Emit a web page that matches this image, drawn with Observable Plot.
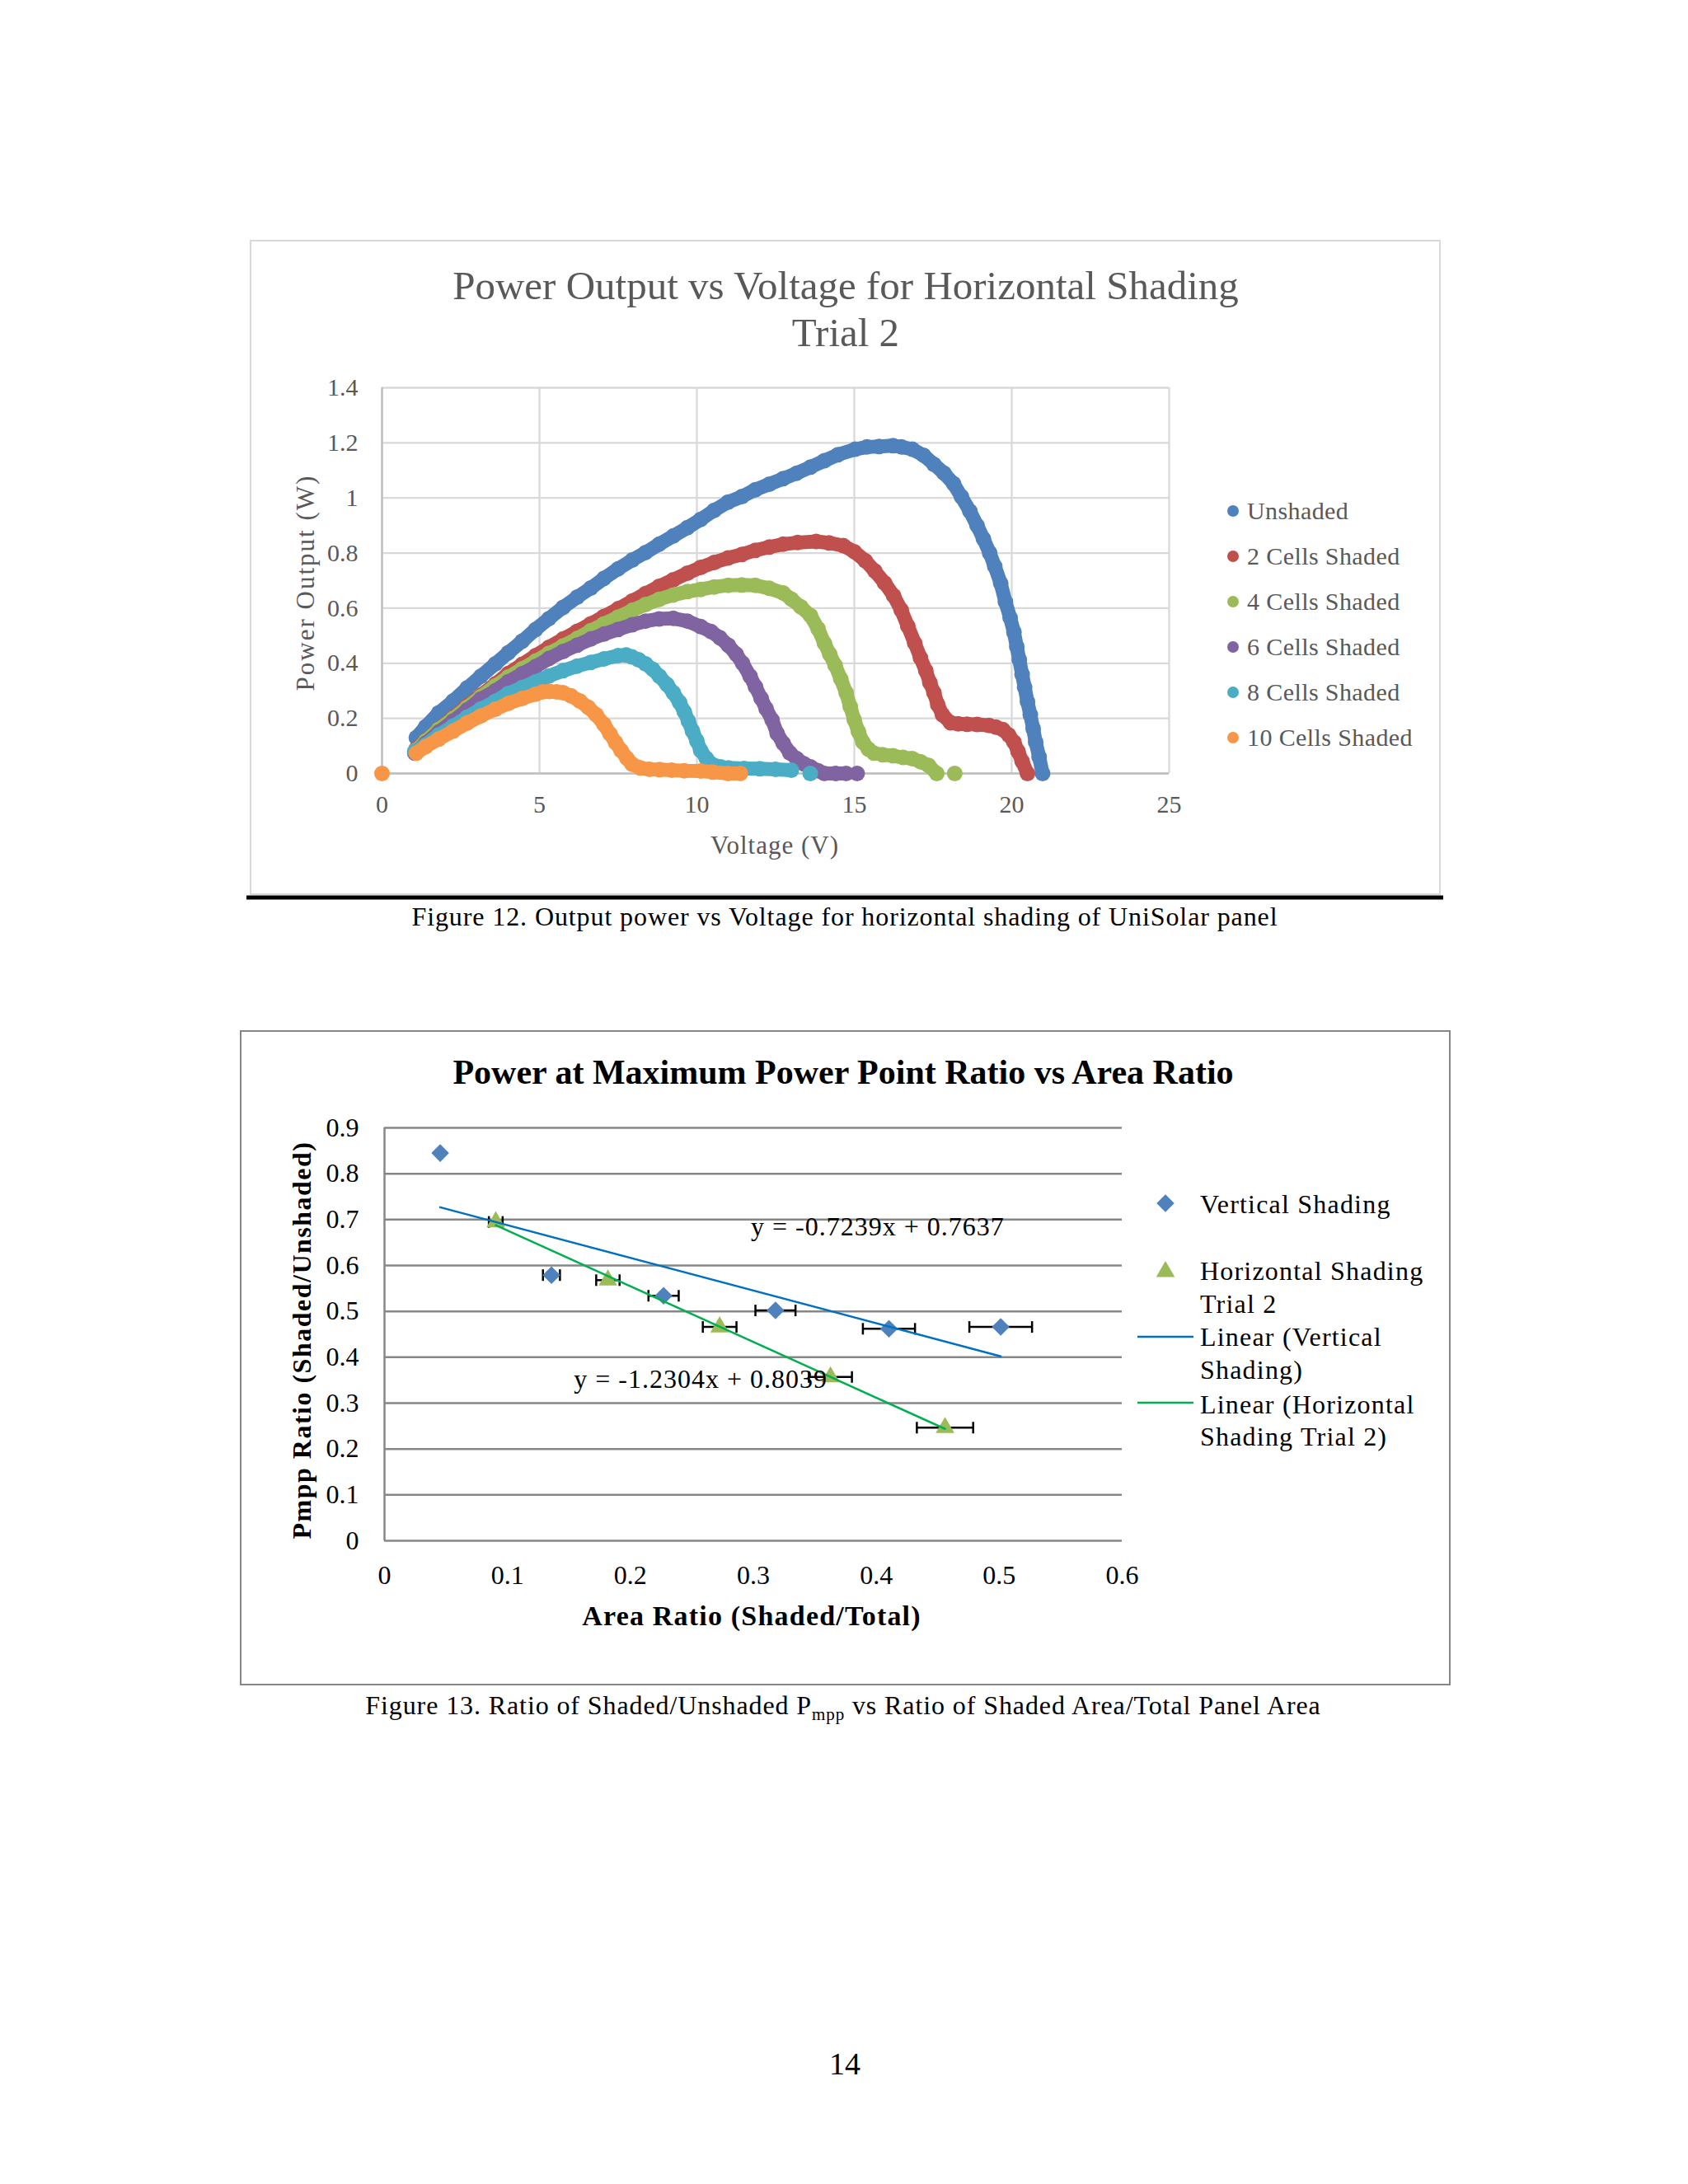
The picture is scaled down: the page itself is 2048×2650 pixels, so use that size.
<!DOCTYPE html>
<html><head><meta charset="utf-8">
<script src="https://cdn.jsdelivr.net/npm/d3@7"></script>
<script src="https://cdn.jsdelivr.net/npm/@observablehq/plot@0.6"></script>
<style>
html,body{margin:0;padding:0;background:#fff;}
#page{position:relative;width:2048px;height:2650px;background:#fff;overflow:hidden;}
#page svg{position:absolute;}
</style></head><body><div id="page"></div>
<script>
// ---------- Figure 12 data: [voltage (V), power (W)], null = gap between points ----------
const unshaded = [[1.09,0.13],[1.39,0.17],[1.8,0.22],[2.26,0.263],[2.7,0.31],[3.14,0.353],[3.6,0.398],[4.01,0.438],[4.45,0.48],[4.88,0.523],[5.3,0.562],[5.75,0.603],[6.2,0.64],[6.63,0.673],[7.05,0.708],[7.5,0.743],[7.95,0.775],[8.37,0.802],[8.8,0.832],[9.25,0.862],[9.7,0.892],[10.12,0.922],[10.55,0.955],[10.99,0.985],[11.43,1.005],[11.86,1.03],[12.3,1.05],[12.74,1.07],[13.17,1.09],[13.61,1.112],[14.05,1.135],[14.48,1.157],[15.03,1.177],[15.4,1.185],[15.79,1.187],[16.23,1.19],[16.5,1.185],[16.84,1.177],[17.2,1.155],[17.53,1.122],[17.85,1.09],[18.15,1.052],[18.4,1.005],[18.67,0.952],[18.9,0.9],[19.1,0.852],[19.3,0.8],[19.46,0.752],[19.65,0.69],[19.8,0.623],[19.95,0.565],[20.07,0.513],[20.16,0.46],[20.24,0.413],[20.33,0.36],[20.41,0.313],[20.5,0.26],[20.59,0.213],[20.68,0.163],[20.76,0.114],[20.87,0.06],[20.98,0.0]];
const shaded2 = [[1.09,0.09],[1.39,0.12],[1.8,0.162],[2.26,0.204],[2.7,0.245],[3.14,0.284],[3.6,0.325],[4.01,0.363],[4.45,0.396],[4.88,0.428],[5.3,0.458],[5.75,0.488],[6.2,0.516],[6.63,0.543],[7.05,0.57],[7.5,0.598],[7.95,0.626],[8.37,0.653],[8.8,0.679],[9.25,0.703],[9.7,0.727],[10.12,0.748],[10.55,0.766],[10.99,0.782],[11.43,0.795],[11.86,0.81],[12.3,0.822],[12.74,0.832],[13.2,0.838],[13.79,0.842],[14.2,0.837],[14.65,0.827],[15.0,0.805],[15.35,0.772],[15.65,0.735],[15.96,0.692],[16.25,0.645],[16.49,0.593],[16.7,0.535],[16.92,0.473],[17.1,0.42],[17.27,0.373],[17.4,0.33],[17.53,0.293],[17.65,0.25],[17.8,0.213],[18.06,0.184],[18.3,0.18],[18.58,0.179],[18.9,0.178],[19.28,0.174],[19.5,0.168],[19.72,0.159],[19.9,0.14],[20.07,0.114],[20.2,0.08],[20.33,0.044],[20.5,0.0]];
const shaded4 = [[1.09,0.085],[1.39,0.118],[1.8,0.16],[2.26,0.2],[2.7,0.24],[3.14,0.279],[3.6,0.318],[4.01,0.35],[4.45,0.38],[4.88,0.408],[5.3,0.436],[5.75,0.463],[6.2,0.49],[6.63,0.518],[7.05,0.543],[7.5,0.568],[7.95,0.592],[8.37,0.613],[8.8,0.632],[9.25,0.648],[9.7,0.66],[10.12,0.668],[10.55,0.677],[10.99,0.683],[11.43,0.684],[11.86,0.683],[12.3,0.672],[12.74,0.655],[13.0,0.633],[13.3,0.605],[13.61,0.573],[13.85,0.525],[14.05,0.473],[14.22,0.433],[14.39,0.393],[14.57,0.343],[14.74,0.293],[14.87,0.243],[15.0,0.194],[15.13,0.152],[15.27,0.114],[15.45,0.088],[15.62,0.074],[15.9,0.068],[16.23,0.064],[16.55,0.058],[16.84,0.054],[17.1,0.043],[17.36,0.029],[17.62,0.0],null,[18.19,0.0]];
const shaded6 = [[1.04,0.074],[1.39,0.11],[1.8,0.15],[2.26,0.19],[2.7,0.23],[3.14,0.27],[3.6,0.30],[4.01,0.333],[4.45,0.362],[4.88,0.388],[5.3,0.417],[5.75,0.443],[6.2,0.466],[6.63,0.488],[7.05,0.506],[7.5,0.523],[7.95,0.54],[8.37,0.553],[8.8,0.561],[9.25,0.563],[9.7,0.553],[10.12,0.533],[10.45,0.515],[10.73,0.493],[11.0,0.465],[11.25,0.433],[11.45,0.4],[11.69,0.353],[11.86,0.315],[12.04,0.273],[12.2,0.235],[12.39,0.194],[12.55,0.145],[12.74,0.11],[12.95,0.075],[13.17,0.054],[13.4,0.035],[13.61,0.024],[13.85,0.01],[14.05,0.0],[14.4,0.0],[14.74,0.0],null,[15.09,0.0]];
const shaded8 = [[1.04,0.08],[1.39,0.104],[1.8,0.14],[2.26,0.172],[2.7,0.204],[3.14,0.234],[3.6,0.262],[4.01,0.29],[4.45,0.312],[4.88,0.333],[5.3,0.354],[5.75,0.373],[6.2,0.39],[6.63,0.403],[7.05,0.416],[7.5,0.428],[7.75,0.43],[7.94,0.423],[8.15,0.413],[8.37,0.398],[8.6,0.378],[8.81,0.353],[9.05,0.323],[9.25,0.293],[9.45,0.258],[9.6,0.224],[9.73,0.19],[9.86,0.154],[10.0,0.118],[10.12,0.084],[10.3,0.055],[10.47,0.034],[10.75,0.024],[11.0,0.02],[11.5,0.018],[12.0,0.017],[12.5,0.015],[13.0,0.012],null,[13.6,0.0]];
const shaded10 = [[0,0],null,[1.09,0.074],[1.39,0.098],[1.8,0.125],[2.26,0.154],[2.7,0.183],[3.14,0.209],[3.6,0.233],[4.01,0.254],[4.45,0.272],[4.88,0.288],[5.1,0.296],[5.32,0.298],[5.55,0.296],[5.75,0.293],[6.0,0.282],[6.28,0.263],[6.55,0.24],[6.8,0.213],[7.05,0.178],[7.24,0.144],[7.42,0.112],[7.59,0.084],[7.78,0.055],[7.94,0.034],[8.2,0.02],[8.5,0.015],[8.81,0.014],[9.2,0.012],[9.6,0.01],[10.12,0.009],[10.5,0.005],[10.99,0.0],[11.38,0.0]];
const seriesNames = ["Unshaded","2 Cells Shaded","4 Cells Shaded","6 Cells Shaded","8 Cells Shaded","10 Cells Shaded"];
const seriesColors = ["#4F81BD","#C0504D","#9BBB59","#8064A2","#4BACC6","#F79646"];
const voltageTicks = [0,5,10,15,20,25];
const powerTicks = [0,0.2,0.4,0.6,0.8,1,1.2,1.4];

// ---------- Figure 13 data ----------
const areaVertical = [0.0453,0.1358,0.227,0.318,0.4103,0.5012];
const pmppVertical = [0.845,0.579,0.534,0.502,0.462,0.466];
const errVertical  = [0,0.0069,0.0123,0.0163,0.0212,0.0255];
const areaHorizontal = [0.0905,0.1817,0.2726,0.3627,0.4559];
const pmppHorizontal = [0.695,0.568,0.466,0.357,0.2465];
const errHorizontal  = [0.0056,0.0095,0.0137,0.0175,0.0229];
const areaTicks = [0,0.1,0.2,0.3,0.4,0.5,0.6];
const ratioTicks = [0,0.1,0.2,0.3,0.4,0.5,0.6,0.7,0.8,0.9];
const trendLabels = [{label:"y = -0.7239x + 0.7637", x:0.298, y:0.684},{label:"y = -1.2304x + 0.8039", x:0.154, y:0.352}];
const legend2 = ["Vertical Shading","Horizontal Shading","Trial 2","Linear (Vertical","Shading)","Linear (Horizontal","Shading Trial 2)"];

const page = document.getElementById("page");
const SERIF = "'Liberation Serif', 'Times New Roman', serif";

// ---------- Chart 1 ----------
const rows = arr => arr.map(d => d ? {v:d[0], p:d[1]} : {v:NaN, p:NaN});
const marks1 = [
  Plot.ruleY(powerTicks, {stroke:"#d9d9d9", strokeWidth:2.3}),
  Plot.ruleX(voltageTicks, {stroke:"#d9d9d9", strokeWidth:2.3}),
  Plot.ruleY([0], {stroke:"#bfbfbf", strokeWidth:2.3}),
  Plot.ruleX([0], {stroke:"#bfbfbf", strokeWidth:2.3})
];
[unshaded, shaded2, shaded4, shaded6, shaded8, shaded10].forEach((s, i) => {
  const r = rows(s);
  marks1.push(Plot.line(r, {x:"v", y:"p", stroke:seriesColors[i], strokeWidth:17, strokeLinecap:"round", strokeLinejoin:"round"}));
  marks1.push(Plot.dot(r.filter(d => !isNaN(d.v)), {x:"v", y:"p", r:9.5, fill:seriesColors[i]}));
});
const chart1 = Plot.plot({
  width:1443, height:793, marginLeft:159, marginRight:329, marginTop:178, marginBottom:147,
  x:{domain:[0,25], ticks:voltageTicks, tickSize:0, tickPadding:26, label:null, tickFormat:d=>String(d)},
  y:{domain:[0,1.4], ticks:powerTicks, tickSize:0, tickPadding:29, label:null, tickFormat:d=>String(d)},
  style:{fontFamily:SERIF, fontSize:"30px", color:"#595959", background:"transparent", overflow:"visible"},
  marks: marks1
});
chart1.style.left = "304px"; chart1.style.top = "292px";
page.appendChild(chart1);

// ---------- Chart 2 ----------
const vert = areaVertical.map((x,i)=>({x, y:pmppVertical[i], e:errVertical[i]}));
const horiz = areaHorizontal.map((x,i)=>({x, y:pmppHorizontal[i], e:errHorizontal[i]}));
const withErr = vert.concat(horiz).filter(d => d.e > 0);
const capSymbol = {draw(ctx, size){ const r = Math.sqrt(size/Math.PI); ctx.moveTo(0,-r); ctx.lineTo(0,r); }};
const chart2 = Plot.plot({
  width:1467, height:793, marginLeft:174, marginRight:398, marginTop:117, marginBottom:175,
  x:{domain:[0,0.6], ticks:areaTicks, tickSize:0, tickPadding:30, label:null, tickFormat:d=>String(d)},
  y:{domain:[0,0.9], ticks:ratioTicks, tickSize:0, tickPadding:31, label:null, tickFormat:d=>String(d)},
  style:{fontFamily:SERIF, fontSize:"32px", color:"#000", background:"transparent", overflow:"visible"},
  marks:[
    Plot.ruleY(ratioTicks, {stroke:"#878787", strokeWidth:2.5}),
    Plot.ruleX([0], {stroke:"#878787", strokeWidth:2.5}),
    Plot.link(withErr, {x1:d=>d.x-d.e, x2:d=>d.x+d.e, y1:"y", y2:"y", stroke:"#000", strokeWidth:2.5}),
    Plot.dot(withErr, {x:d=>d.x-d.e, y:"y", symbol:capSymbol, r:7, stroke:"#000", strokeWidth:2.5, fill:"none"}),
    Plot.dot(withErr, {x:d=>d.x+d.e, y:"y", symbol:capSymbol, r:7, stroke:"#000", strokeWidth:2.5, fill:"none"}),
    Plot.dot(vert, {x:"x", y:"y", symbol:"diamond2", r:9.7, fill:"#4F81BD", stroke:"none"}),
    Plot.dot(horiz, {x:"x", y:"y", symbol:"triangle", r:8.4, fill:"#9BBB59", stroke:"none"}),
    Plot.linearRegressionY(vert, {x:"x", y:"y", stroke:"#0070C0", strokeWidth:2.5, ci:0}),
    Plot.linearRegressionY(horiz, {x:"x", y:"y", stroke:"#00B050", strokeWidth:2.5, ci:0}),
    Plot.text(trendLabels, {x:"x", y:"y", text:"label", textAnchor:"start", fontSize:32, fill:"#000"})
  ]
});
chart2.style.left = "292px"; chart2.style.top = "1251px";
chart2.querySelectorAll("text").forEach(t => { if (/^y =/.test(t.textContent)) t.setAttribute("letter-spacing","1"); });
page.appendChild(chart2);

// ---------- Overlay: frames, titles, legends, captions ----------
const ov = d3.select(page).append("svg").attr("width",2048).attr("height",2650)
  .style("left","0px").style("top","0px").style("pointer-events","none");
function txt(x, y, s, o = {}) {
  const t = ov.append("text").attr("x",x).attr("y",y).text(s)
    .attr("font-family", o.family || SERIF).attr("font-size", o.size || 30)
    .attr("fill", o.fill || "#000").attr("text-anchor", o.anchor || "start");
  if (o.weight) t.attr("font-weight", o.weight);
  if (o.ls) t.attr("letter-spacing", o.ls);
  if (o.rotate) t.attr("transform", `rotate(-90 ${x} ${y})`);
  return t;
}
// chart 1 frame
ov.append("rect").attr("x",304).attr("y",292).attr("width",1443).attr("height",793).attr("fill","none").attr("stroke","#d9d9d9").attr("stroke-width",2);
ov.append("line").attr("x1",299).attr("x2",1751).attr("y1",1089).attr("y2",1089).attr("stroke","#000").attr("stroke-width",5);
txt(1026, 363, "Power Output vs Voltage for Horizontal Shading", {size:49, fill:"#595959", anchor:"middle"});
txt(1026, 420, "Trial 2", {size:49, fill:"#595959", anchor:"middle"});
txt(381, 707, "Power Output (W)", {size:31, fill:"#595959", anchor:"middle", rotate:true, ls:2});
txt(940, 1036, "Voltage (V)", {size:31, fill:"#595959", anchor:"middle", ls:1});
seriesNames.forEach((n, i) => {
  const cy = 620 + i * 55;
  ov.append("circle").attr("cx",1496).attr("cy",cy).attr("r",7).attr("fill",seriesColors[i]);
  txt(1513, cy + 10, n, {size:30, fill:"#595959", ls:0.4});
});
txt(1025, 1123, "Figure 12.  Output power vs Voltage for horizontal shading of UniSolar panel", {size:32, anchor:"middle", ls:0.9});

// chart 2 frame
ov.append("rect").attr("x",292).attr("y",1251).attr("width",1467).attr("height",793).attr("fill","none").attr("stroke","#868686").attr("stroke-width",2);
txt(1023, 1315, "Power at Maximum Power Point Ratio vs Area Ratio", {size:42, weight:"bold", anchor:"middle"});
txt(377, 1626, "Pmpp Ratio (Shaded/Unshaded)", {size:32, weight:"bold", anchor:"middle", rotate:true, ls:1.5});
txt(912, 1972, "Area Ratio (Shaded/Total)", {size:34, weight:"bold", anchor:"middle", ls:1.2});
ov.append("path").attr("transform","translate(1414,1460)").attr("d", d3.symbol(d3.symbolDiamond2, Math.PI*9.7*9.7)()).attr("fill","#4F81BD");
ov.append("path").attr("transform","translate(1414,1543)").attr("d", d3.symbol(d3.symbolTriangle, Math.PI*8.4*8.4)()).attr("fill","#9BBB59");
ov.append("line").attr("x1",1380).attr("x2",1448).attr("y1",1622).attr("y2",1622).attr("stroke","#0070C0").attr("stroke-width",2.5);
ov.append("line").attr("x1",1380).attr("x2",1448).attr("y1",1702).attr("y2",1702).attr("stroke","#00B050").attr("stroke-width",2.5);
const legBase = [1472,1553,1593,1633,1673,1715,1754];
legend2.forEach((s,i) => txt(1456, legBase[i], s, {size:32, ls:1.2}));
const cap2 = txt(1023, 2080, "Figure 13.  Ratio of Shaded/Unshaded P", {size:32, anchor:"middle", ls:0.9});
cap2.append("tspan").attr("font-size",21).attr("dy",7).text("mpp");
cap2.append("tspan").attr("dy",-7).text(" vs Ratio of Shaded Area/Total Panel Area");
txt(1025, 2517, "14", {size:38, anchor:"middle"});
</script></body></html>
